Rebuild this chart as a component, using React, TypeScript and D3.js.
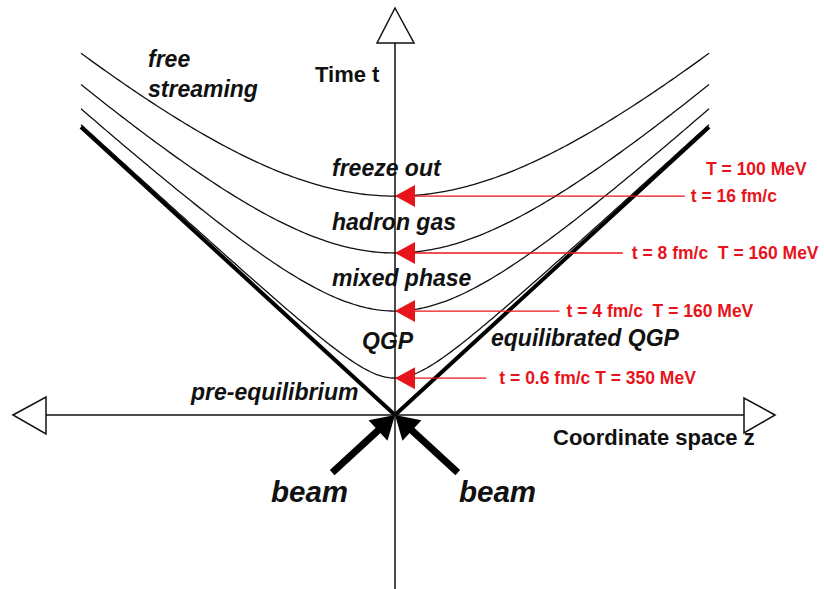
import React from 'react';
import * as d3 from 'd3';

const W = 824;
const H = 589;

// Proper-time hyperbolae (schematic units, light cone t = |z|)
const hyperbolaTau = [0.128, 0.361, 0.5625, 0.76];
const properTimeLabels = ['t = 0.6 fm/c', 't = 4 fm/c', 't = 8 fm/c', 't = 16 fm/c'];
const temperatureLabels = ['T = 350 MeV', 'T = 160 MeV', 'T = 160 MeV', 'T = 100 MeV'];
const labelSeparators = [' ', '  ', '  ', ''];

const phaseLabels = ['QGP', 'mixed phase', 'hadron gas', 'freeze out'];

const RED = '#e8141c';
const FONT = '"Liberation Sans", Arial, Helvetica, sans-serif';

export default function App() {
  const z = d3.scaleLinear().domain([-1, 1]).range([81, 709]);
  const t = d3.scaleLinear().domain([0, 1]).range([415, 127]);
  const x0 = z(0);
  const y0 = t(0);

  const zs = d3.range(-1, 1.0001, 0.01);
  const hyper = (tau: number) =>
    d3
      .line<number>()
      .x((d) => z(d))
      .y((d) => t(Math.sqrt(tau * tau + d * d)))(zs) as string;

  const arrowLen = 23;
  const arrowHalf = 14;
  const beamHead = (sz: number) => {
    const sx = z(sz), sy = t(-0.2);
    const dx = x0 - sx, dy = y0 - sy;
    const L = Math.hypot(dx, dy);
    const ux = dx / L, uy = dy / L;
    const bx = x0 - arrowLen * ux, by = y0 - arrowLen * uy;
    const nx = -uy, ny = ux;
    return {
      line: { x1: sx, y1: sy, x2: bx + ux * 2, y2: by + uy * 2 },
      head: `${x0},${y0} ${bx + arrowHalf * nx},${by + arrowHalf * ny} ${bx - arrowHalf * nx},${by - arrowHalf * ny}`,
    };
  };
  const beams = [beamHead(-0.2), beamHead(0.2)];

  const boldItalic = { fontFamily: FONT, fontWeight: 700, fontStyle: 'italic' as const, fontSize: 23, fill: '#111' };
  const bold = { fontFamily: FONT, fontWeight: 700, fontSize: 22, fill: '#111' };
  const redText = { fontFamily: FONT, fontWeight: 700, fontSize: 17.5, fill: RED, whiteSpace: 'pre' as const };

  const phasePos = [
    [362, 349],
    [332, 286],
    [332, 230],
    [332, 176],
  ];
  const textGap = [13, 7, 9, 6];

  return (
    <svg
      width={W}
      height={H}
      viewBox={`0 0 ${W} ${H}`}
      style={{ position: 'absolute', left: 0, top: 0, background: '#fff', display: 'block' }}
    >
      {/* hyperbolae */}
      {hyperbolaTau.map((tau, i) => (
        <path key={i} d={hyper(tau)} fill="none" stroke="#111" strokeWidth={1.3} />
      ))}
      {/* light cone */}
      <line x1={z(-1)} y1={t(1)} x2={x0} y2={y0} stroke="#000" strokeWidth={4} />
      <line x1={z(1)} y1={t(1)} x2={x0} y2={y0} stroke="#000" strokeWidth={4} />

      {/* axes */}
      <line x1={x0} y1={43} x2={x0} y2={H} stroke="#111" strokeWidth={1.5} />
      <line x1={46} y1={y0} x2={744} y2={y0} stroke="#111" strokeWidth={1.5} />
      <polygon points={`${x0},8 ${x0 - 18},43 ${x0 + 19},43`} fill="#fff" stroke="#111" strokeWidth={1.5} />
      <polygon points={`13,${y0} 46,${y0 - 18} 46,${y0 + 19}`} fill="#fff" stroke="#111" strokeWidth={1.5} />
      <polygon points={`775,${y0} 744,${y0 - 17} 744,${y0 + 18}`} fill="#fff" stroke="#111" strokeWidth={1.5} />

      {/* red arrows */}
      {hyperbolaTau.map((tau, i) => {
        const y = t(tau);
        const xe = z(tau + 0.163);
        return (
          <g key={i}>
            <line x1={x0 + 18} y1={y} x2={xe} y2={y} stroke={RED} strokeWidth={1.3} />
            <polygon points={`${x0},${y} ${x0 + 20},${y - 11} ${x0 + 20},${y + 11}`} fill={RED} />
            <text x={xe + textGap[i]} y={y + 6} style={redText}>
              {properTimeLabels[i] + labelSeparators[i] + (labelSeparators[i] ? temperatureLabels[i] : '')}
            </text>
            {!labelSeparators[i] && (
              <text x={706} y={y - 21} style={redText}>
                {temperatureLabels[i]}
              </text>
            )}
          </g>
        );
      })}

      {/* beams */}
      {beams.map((b, i) => (
        <g key={i}>
          <line {...b.line} stroke="#000" strokeWidth={7} />
          <polygon points={b.head} fill="#000" />
        </g>
      ))}

      {/* labels */}
      {phaseLabels.map((p, i) => (
        <text key={p} x={phasePos[i][0]} y={phasePos[i][1]} style={boldItalic}>
          {p}
        </text>
      ))}
      <text x={148} y={67} style={boldItalic}>free</text>
      <text x={148} y={97} style={boldItalic}>streaming</text>
      <text x={315} y={82} style={bold}>Time t</text>
      <text x={491} y={346} style={boldItalic}>equilibrated QGP</text>
      <text x={191} y={400} style={boldItalic}>pre-equilibrium</text>
      <text x={553} y={445} style={bold}>Coordinate space z</text>
      <text x={271} y={502} style={{ ...boldItalic, fontSize: 29.5 }}>beam</text>
      <text x={459} y={502} style={{ ...boldItalic, fontSize: 29.5 }}>beam</text>
    </svg>
  );
}
